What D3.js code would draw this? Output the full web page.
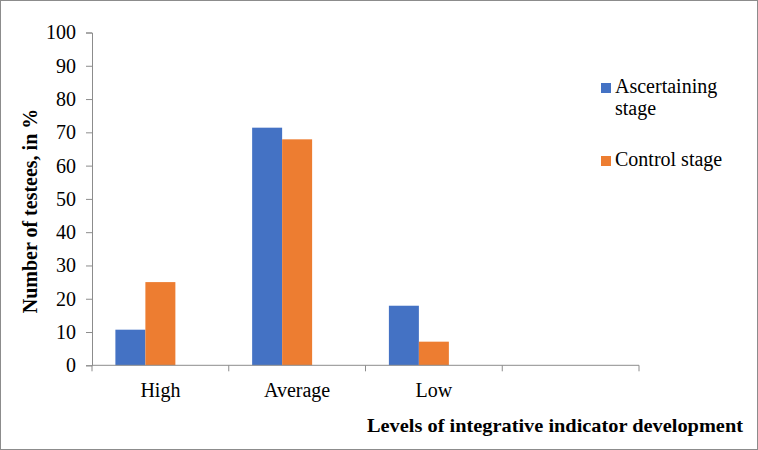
<!DOCTYPE html>
<html>
<head>
<meta charset="utf-8">
<script src="https://cdn.jsdelivr.net/npm/d3@7"></script>
<style>
  body { margin: 0; background: #fff; }
  svg { display: block; }
  svg text { font-family: "Times New Roman", "Liberation Serif", "DejaVu Serif", serif; fill: #000; }
</style>
</head>
<body>
<svg id="chart" width="758" height="450"></svg>
<script>
// Chart data
var categories = ["High", "Average", "Low", ""];
var seriesNames = ["Ascertaining stage", "Control stage"];
var ascertaining = [10.7, 71.4, 17.9, null];
var control = [25.0, 67.9, 7.1, null];
var seriesColors = ["#4472C4", "#ED7D31"];
var yTicks = [0, 10, 20, 30, 40, 50, 60, 70, 80, 90, 100];
var slotCount = 3; // the source chart reserves room for a third, empty series

var svg = d3.select("#chart");

// outer frame
svg.append("rect")
  .attr("x", 0.5).attr("y", 0.5)
  .attr("width", 757).attr("height", 449)
  .attr("fill", "none")
  .attr("stroke", "#8c8c8c");

var plot = { left: 92, right: 639, top: 32.5, bottom: 365.3 };

var y = d3.scaleLinear().domain([0, 100]).range([plot.bottom, plot.top]);
var x0 = d3.scaleBand().domain(categories).range([plot.left, plot.right]).padding(0);
var x1 = d3.scaleBand().domain(d3.range(slotCount))
  .range([0, x0.bandwidth()]).paddingInner(0).paddingOuter(0.78);

var axisColor = "#8c8c8c";

// y axis
var yAxis = svg.append("g")
  .attr("transform", "translate(" + plot.left + ",0)")
  .call(d3.axisLeft(y).tickValues(yTicks).tickSize(6).tickPadding(10));
yAxis.attr("font-family", null).attr("font-size", null);
yAxis.select(".domain").attr("stroke", axisColor);
yAxis.selectAll(".tick line").attr("stroke", axisColor);
yAxis.selectAll(".tick text")
  .style("font-size", "20px")
  .attr("fill", "#000");

// bars
var series = [ascertaining, control];
series.forEach(function (values, si) {
  svg.append("g").selectAll("rect")
    .data(categories.map(function (c, i) { return { cat: c, v: values[i] }; })
      .filter(function (d) { return d.v != null; }))
    .join("rect")
    .attr("x", function (d) { return x0(d.cat) + x1(si); })
    .attr("width", x1.bandwidth())
    .attr("y", function (d) { return y(d.v); })
    .attr("height", function (d) { return y(0) - y(d.v); })
    .attr("fill", seriesColors[si]);
});

// x axis: boundaries between categories, labels centred
var xAxisG = svg.append("g");
xAxisG.append("line")
  .attr("x1", plot.left).attr("x2", plot.right)
  .attr("y1", y(0)).attr("y2", y(0))
  .attr("stroke", axisColor);
var bounds = categories.map(function (c) { return x0(c); }).concat([plot.right]);
xAxisG.selectAll("line.tick")
  .data(bounds)
  .join("line")
  .attr("class", "tick")
  .attr("x1", function (d) { return d; }).attr("x2", function (d) { return d; })
  .attr("y1", y(0)).attr("y2", y(0) + 6)
  .attr("stroke", axisColor);
xAxisG.selectAll("text")
  .data(categories)
  .join("text")
  .attr("x", function (d) { return x0(d) + x0.bandwidth() / 2; })
  .attr("y", 397)
  .attr("text-anchor", "middle")
  .style("font-size", "20px")
  .text(function (d) { return d; });

// axis titles
svg.append("text")
  .attr("x", 743).attr("y", 432)
  .attr("text-anchor", "end")
  .style("font-size", "19px")
  .style("font-weight", "bold")
  .attr("textLength", 376)
  .attr("lengthAdjust", "spacingAndGlyphs")
  .text("Levels of integrative indicator development");

svg.append("text")
  .attr("transform", "translate(37,211) rotate(-90)")
  .attr("text-anchor", "middle")
  .style("font-size", "20px")
  .style("font-weight", "bold")
  .text("Number of testees, in  %");

// legend
var legendRows = [
  { lines: ["Ascertaining", "stage"], y: 93 },
  { lines: ["Control stage"], y: 166 }
];
var legend = svg.append("g");
legendRows.forEach(function (row, i) {
  legend.append("rect")
    .attr("x", 601).attr("y", row.y - 10)
    .attr("width", 10).attr("height", 10)
    .attr("fill", seriesColors[i]);
  var t = legend.append("text")
    .attr("x", 615).attr("y", row.y)
    .style("font-size", "20px");
  row.lines.forEach(function (line, li) {
    t.append("tspan")
      .attr("x", 615)
      .attr("dy", li === 0 ? 0 : 22)
      .text(line);
  });
});
</script>
</body>
</html>
